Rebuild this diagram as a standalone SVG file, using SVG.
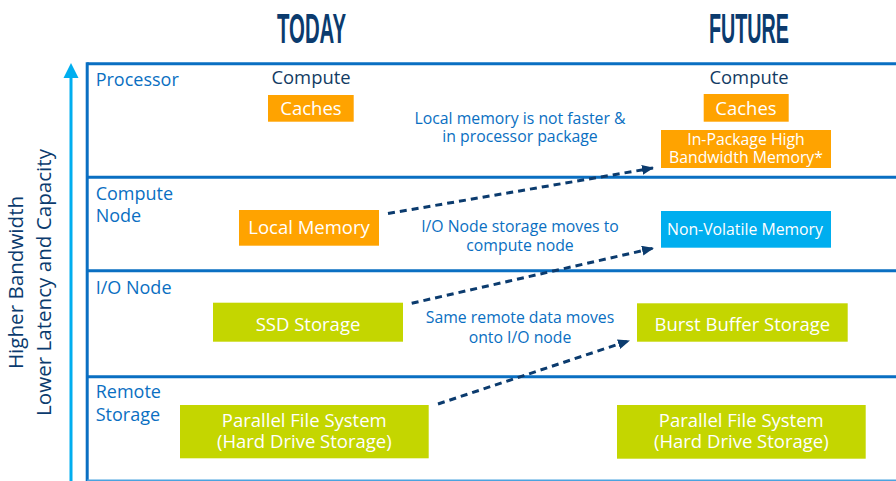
<svg xmlns="http://www.w3.org/2000/svg" width="896" height="481" viewBox="0 0 896 481">
<style>
.hd{font-family:"Liberation Sans Narrow","Liberation Sans",sans-serif;font-weight:bold;font-size:43px;fill:#0b3b6e;text-anchor:middle}
.lab{font-family:"Open Sans","Noto Sans",sans-serif;font-size:18px;fill:#0a6fc2}
.cmp{font-family:"Open Sans","Noto Sans",sans-serif;font-size:18.4px;fill:#123b63;text-anchor:middle}
.note{font-family:"Open Sans","Noto Sans",sans-serif;font-size:15.8px;fill:#0a6fc2;text-anchor:middle}
.bt{font-family:"Open Sans","Noto Sans",sans-serif;font-size:18.5px;fill:#ffffff;text-anchor:middle}
.bts{font-family:"Open Sans","Noto Sans",sans-serif;font-size:15.8px;fill:#ffffff;text-anchor:middle}
.axis{font-family:"Open Sans","Noto Sans",sans-serif;font-size:20.6px;fill:#0b3b6e;text-anchor:middle}
.frame{stroke:#0a6fc2;stroke-width:3;fill:none}
.orange{fill:#ffa300}
.green{fill:#c4d600}
.cyan{fill:#00aeef}
.conn{stroke:#0b3b6e;stroke-width:3;stroke-dasharray:7 5;fill:none}
</style>
<defs>
<marker id="ah" markerWidth="12" markerHeight="10" refX="11" refY="5" orient="auto" markerUnits="userSpaceOnUse">
<path d="M0,0 L12,5 L0,10 Z" fill="#0b3b6e"/>
</marker>
</defs>
<rect width="896" height="481" fill="#ffffff"/>

<g id="headings">
<text class="hd" x="311.5" y="42.7" textLength="69" lengthAdjust="spacingAndGlyphs">TODAY</text>
<text class="hd" x="749" y="42.7" textLength="80" lengthAdjust="spacingAndGlyphs">FUTURE</text>
</g>

<g id="axis">
<line x1="71" y1="76" x2="71" y2="481" stroke="#00aeef" stroke-width="3"/>
<path d="M71,63 L78.5,78 L63.5,78 Z" fill="#00aeef"/>
<text class="axis" transform="translate(22.7,282.5) rotate(-90)">Higher Bandwidth</text>
<text class="axis" transform="translate(50.7,282.5) rotate(-90)">Lower Latency and Capacity</text>
</g>

<g id="frame">
<line class="frame" x1="87.2" y1="63.7" x2="896" y2="63.7"/>
<line class="frame" x1="87.2" y1="62.2" x2="87.2" y2="481"/>
<line class="frame" x1="87.2" y1="177.3" x2="896" y2="177.3"/>
<line class="frame" x1="87.2" y1="270.7" x2="896" y2="270.7"/>
<line class="frame" x1="87.2" y1="376.7" x2="896" y2="376.7"/>
<line x1="87.2" y1="480.5" x2="896" y2="480.5" stroke="#4aa3df" stroke-width="2"/>
</g>

<g id="row-labels">
<text class="lab" x="95.7" y="86">Processor</text>
<text class="lab" x="95.7" y="200">Compute</text>
<text class="lab" x="95.7" y="222">Node</text>
<text class="lab" x="95.7" y="294">I/O Node</text>
<text class="lab" x="95.7" y="398">Remote</text>
<text class="lab" x="95.7" y="421">Storage</text>
</g>

<g id="today-compute"><text class="cmp" x="311" y="84">Compute</text></g>
<g id="future-compute"><text class="cmp" x="749" y="84">Compute</text></g>

<g id="today-caches">
<rect class="orange" x="268" y="95" width="85.7" height="26.7"/>
<text class="bt" x="311" y="115">Caches</text>
</g>
<g id="future-caches">
<rect class="orange" x="703.7" y="94" width="85" height="27.7"/>
<text class="bt" x="746" y="115">Caches</text>
</g>
<g id="hbm">
<rect class="orange" x="661" y="130" width="170" height="38"/>
<text class="bts" x="746" y="144.5">In-Package High</text>
<text class="bts" x="746" y="163">Bandwidth Memory*</text>
</g>
<g id="local-memory">
<rect class="orange" x="239" y="210" width="140" height="35.7"/>
<text class="bt" x="309" y="234">Local Memory</text>
</g>
<g id="nvm">
<rect class="cyan" x="661" y="211" width="170" height="36.7"/>
<text class="bts" x="745" y="235">Non-Volatile Memory</text>
</g>
<g id="ssd">
<rect class="green" x="213" y="302.7" width="190" height="39"/>
<text class="bt" x="308" y="331">SSD Storage</text>
</g>
<g id="burst-buffer">
<rect class="green" x="637" y="303.3" width="210.7" height="38.4"/>
<text class="bt" x="742.3" y="331">Burst Buffer Storage</text>
</g>
<g id="pfs-today">
<rect class="green" x="180" y="405" width="248.7" height="53.3"/>
<text class="bt" x="304.3" y="426.7">Parallel File System</text>
<text class="bt" x="304.3" y="448">(Hard Drive Storage)</text>
</g>
<g id="pfs-future">
<rect class="green" x="617" y="405" width="248.7" height="53.7"/>
<text class="bt" x="741.3" y="426.7">Parallel File System</text>
<text class="bt" x="741.3" y="448">(Hard Drive Storage)</text>
</g>

<g id="notes">
<text class="note" x="520" y="123.5">Local memory is not faster &amp;</text>
<text class="note" x="520" y="142">in processor package</text>
<text class="note" x="520" y="232">I/O Node storage moves to</text>
<text class="note" x="520" y="251">compute node</text>
<text class="note" x="520" y="323">Same remote data moves</text>
<text class="note" x="520" y="342.5">onto I/O node</text>
</g>

<g id="connectors">
<line class="conn" x1="388" y1="213.5" x2="653" y2="168" marker-end="url(#ah)"/>
<line class="conn" x1="411.7" y1="303.3" x2="653" y2="248.3" marker-end="url(#ah)"/>
<line class="conn" x1="438" y1="404" x2="629" y2="340.7" marker-end="url(#ah)"/>
</g>
</svg>
